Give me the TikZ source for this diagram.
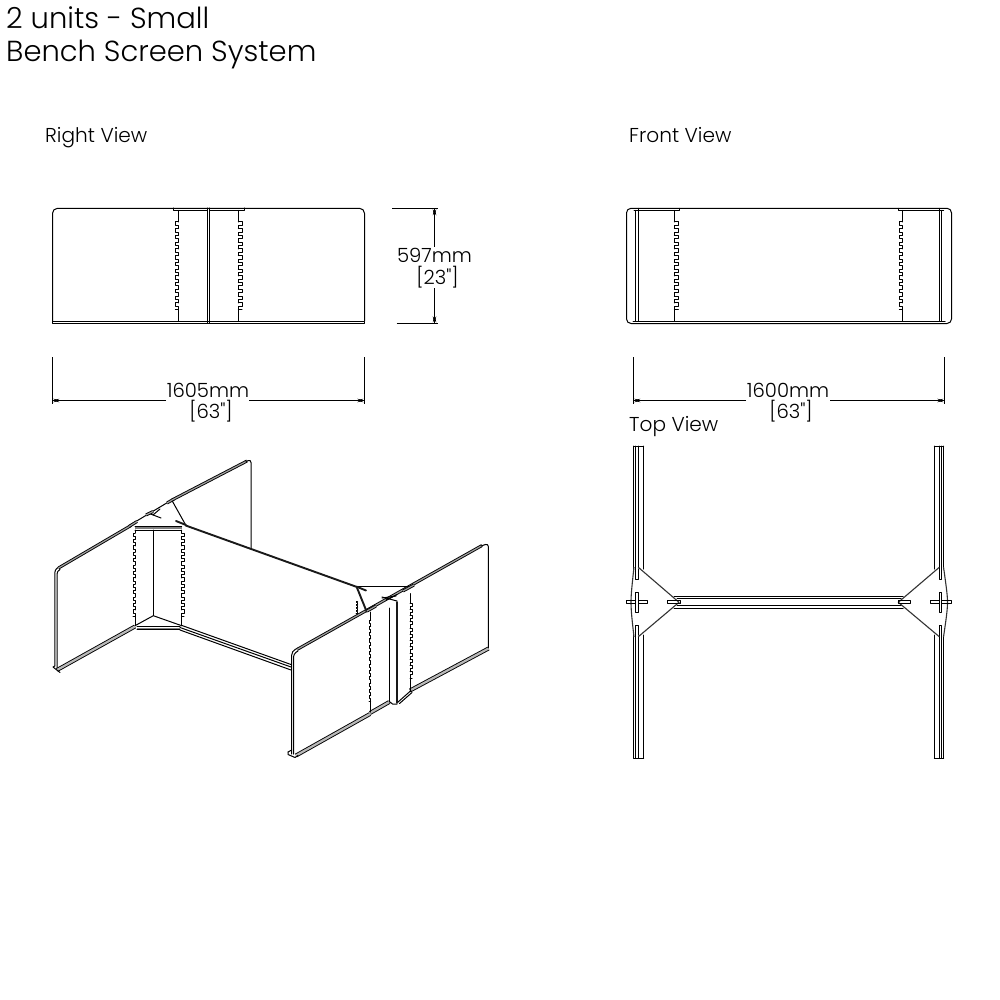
\documentclass[tikz,border=0pt]{standalone}
\usepackage{fontspec}
\setmainfont{Poppins Light}[Ligatures=TeXOff]
\usetikzlibrary{arrows.meta}
\newcommand{\teeth}[5]{% x0 x1 ystart period n
  \foreach \ti in {1,...,#5}{
    \pgfmathsetmacro{\ya}{#3+(\ti-1)*#4}
    \pgfmathsetmacro{\yb}{\ya+#4/2}
    \pgfmathsetmacro{\yc}{\ya+#4}
    \draw[ln] (#1,\ya) -- (#2,\ya) -- (#2,\yb) -- (#1,\yb) -- (#1,\yc);
  }
  \pgfmathsetmacro{\yc}{#3+#5*#4}
  \draw[ln] (#1,\yc) -- (#2,\yc);
}
\tikzset{
  ln/.style={draw=black,line width=1pt,line cap=round,line join=round},
  plate/.style={draw=black!80,line width=1.1pt,line join=round},
  heavy/.style={draw=black!90,line width=1.9pt,line cap=round},
  edge band/.style={draw=black,line width=0.9pt,double=gray!75,double distance=1.2pt,line cap=butt},
  foot band/.style={draw=black,line width=0.9pt,double=gray!55,double distance=2.2pt,line cap=butt},
  dim/.style={draw=black,line width=0.8pt,{Stealth[length=7pt,width=3.5pt]}-{Stealth[length=7pt,width=3.5pt]}},
  ext/.style={draw=black,line width=0.8pt},
  lab/.style={font=\fontsize{20.1}{22}\selectfont,anchor=base west,inner sep=0pt},
  dimtxt/.style={font=\fontsize{19.6}{22}\selectfont,anchor=base,inner sep=0pt},
  ttl/.style={font=\fontsize{29}{32}\selectfont,anchor=base west,inner sep=0pt},
}
\begin{document}
\begin{tikzpicture}[x=1pt,y=-1pt]
\useasboundingbox (0,0) rectangle (1000,1000);
\fill[white] (0,0) rectangle (1000,1000);
% titles
\node[ttl] (t1) at (6,28.5) {2 units - Small};
\node[ttl] (t2) at (6,61.5) {Bench Screen System};
\node[lab] (l1) at (45,142.5) {Right View};
\node[lab] (l2) at (629,142.5) {Front View};
\node[lab] (l3) at (629,431) {Top View};
% ---- right view
\draw[ln,rounded corners=5pt] (52.5,321) -- (52.5,208.3) -- (364.5,208.3) -- (364.5,321);
\draw[ln] (52.5,321) -- (364.5,321) -- (364.5,323.3) -- (52.5,323.3) -- cycle;
\draw[ln] (207.3,208) -- (207.3,323) (209.6,208) -- (209.6,323);
\draw[ln] (173.5,208) -- (173.5,210.5) -- (207.3,210.5);
\draw[ln] (244,208) -- (244,210.5) -- (209.6,210.5);
\draw[ln] (178.4,210.5) -- (178.4,222) (178.4,309.5) -- (178.4,321);
\draw[ln] (238.4,210.5) -- (238.4,222) (238.4,309.5) -- (238.4,321);
\teeth{178.4}{175.3}{222}{6.73}{13}
\teeth{238.4}{242}{222}{6.73}{13}
% dims right view
\draw[ext] (52.3,357) -- (52.3,404) (364.3,357) -- (364.3,404);
\coordinate (da) at (52.3,400.5); \coordinate (db) at (364.3,400.5);
\draw[ext] (166,400.5) -- (da);
\draw[ext] (249,400.5) -- (db);
\draw[dim] (da) -- ++(8,0);
\draw[dim] (db) -- ++(-8,0);
\node[dimtxt] (d1) at (208,397) {1605mm};
\node[dimtxt] (d1b) at (211,418.5) {[63"]};
\draw[ext] (392.3,208.3) -- (438,208.3) (396.7,323.3) -- (438,323.3);
\draw[ext] (434.5,246.5) -- (434.5,208.3) (434.5,288) -- (434.5,323.3);
\draw[dim] (434.5,208.3) -- ++(0,8);
\draw[dim] (434.5,323.3) -- ++(0,-8);
\node[dimtxt] (d2) at (434.5,262) {597mm};
\node[dimtxt] (d2b) at (437.5,284.5) {[23"]};
% ---- front view
\draw[ln,rounded corners=4.5pt] (626.5,265) -- (626.5,208.3) -- (951.5,208.3) -- (951.5,323.5) -- (626.5,323.5) -- cycle;
\draw[ln] (633,321) -- (945,321);
\draw[ln] (635.5,210.5) -- (635.5,321) (638.7,208.3) -- (638.7,321);
\draw[ln] (634,210.5) -- (679.8,210.5) -- (679.8,208.3);
\draw[ln] (674.3,210.5) -- (674.3,222) (674.3,309.5) -- (674.3,321);
\teeth{674.3}{678.3}{222}{6.73}{13}
\draw[ln] (939.3,208.3) -- (939.3,321) (941.7,210.5) -- (941.7,321);
\draw[ln] (943.5,210.5) -- (898.3,210.5) -- (898.3,208.3);
\draw[ln] (902.3,210.5) -- (902.3,222) (902.3,309.5) -- (902.3,321);
\teeth{902.3}{899.3}{222}{6.73}{13}
% dims front
\draw[ext] (633.3,357) -- (633.3,404) (944.3,357) -- (944.3,404);
\coordinate (dc) at (633.3,400.5); \coordinate (dd) at (944.3,400.5);
\draw[ext] (746,400.5) -- (dc);
\draw[ext] (830,400.5) -- (dd);
\draw[dim] (dc) -- ++(8,0);
\draw[dim] (dd) -- ++(-8,0);
\node[dimtxt] (d3) at (788,397) {1600mm};
\node[dimtxt] (d3b) at (791,418.5) {[63"]};
% ---- top view
\foreach \xx in {633.5,635.6,643.5}{
  \draw[ln] (\xx,446) -- (\xx,569) (\xx,635) -- (\xx,758);
}
\draw[ln] (638.5,446) -- (638.5,568) (638.5,636) -- (638.5,758);
\draw[ln] (633.5,446) -- (643.5,446) (633.5,758) -- (643.5,758);
\foreach \xx in {934.3,939.3,941.7,943.5}{
  \draw[ln] (\xx,446) -- (\xx,569) (\xx,635) -- (\xx,758);
}
\draw[ln] (934.3,446) -- (943.5,446) (934.3,758) -- (943.5,758);
% plates
\draw[plate] (634,567) .. controls (632,585) and (631,595) .. (631,602) .. controls (631,610) and (632,620) .. (634,637);
\draw[plate] (638.3,567.3) -- (679,602.3) -- (638.3,636.7);
\draw[plate] (943.5,567) .. controls (946,585) and (947.5,595) .. (947.5,602) .. controls (947.5,610) and (946,620) .. (943.5,637);
\draw[plate] (939.3,567.3) -- (898.3,602.3) -- (939.3,636.7);
% slots
\draw[ln] (635.5,569) -- (635.5,579) -- (638.5,579) -- (638.5,569);
\draw[ln] (635.5,635) -- (635.5,625) -- (638.5,625) -- (638.5,635);
\draw[ln] (939.3,569) -- (939.3,579) -- (941.7,579) -- (941.7,569);
\draw[ln] (939.3,635) -- (939.3,625) -- (941.7,625) -- (941.7,635);
\draw[ln] (626,600.8) rectangle (647.7,603.6);
\draw[ln,fill=white] (635.5,592.3) rectangle (638.7,612.3);
\draw[ln] (930,600.8) rectangle (951.7,603.6);
\draw[ln,fill=white] (939.3,592.3) rectangle (941.7,612.3);
% beam
\draw[ln] (674,596) -- (903,596) (677,598.6) -- (901,598.6) (677,605.4) -- (901,605.4) (674,608.3) -- (903,608.3);
\draw[ln] (667.3,600.8) rectangle (680,603.6);
\draw[ln] (898,600.8) rectangle (910.5,603.6);
% ---- isometric: back-left assembly
\draw[ln,rounded corners=3pt] (54.8,666) -- (54.8,569.5) -- (59,567);
\draw[ln,rounded corners=3pt] (57,668) -- (57,571) -- (60,569.5);
\draw[edge band] (58.5,568) -- (131,525.5);
\draw[foot band] (57,670) -- (135,626.5);
\draw[ln] (53,667) -- (54.8,666) (53,667) -- (60,672.5);
\draw[ln] (135,526.7) -- (181.7,526.7);
\draw[draw=gray,line width=1.6pt] (135,528) -- (181.7,528);
\draw[ln] (135,530) -- (181.7,530);
\draw[ln] (135,530) -- (135,533) (135,615.5) -- (135,625.7);
\draw[ln] (181.7,530) -- (181.7,533) (181.7,615.5) -- (181.7,625.7);
\teeth{135}{133}{533}{6.4}{13}
\teeth{181.7}{184}{533}{6.4}{13}
\draw[ln] (153.3,530) -- (153.3,615.7);
\draw[ln] (135,625.7) -- (153.3,615.7) -- (181.7,625.7);
\draw[ln] (137,626.3) -- (180,626.3) (137,629.5) -- (180,629.5);
\draw[draw=gray,line width=1pt] (137,628) -- (180,628);
% triangle top back-left
\draw[ln] (130,525) -- (171.7,500) -- (185.7,525);
\draw[edge band] (129,526.5) -- (137,521.5);
\draw[edge band] (167,503) -- (174,499);
\draw[heavy] (176,521) -- (186,525);
\draw[ln] (148,513) -- (161,518);
\draw[ln] (153,515) -- (160,509);
\draw[edge band] (146,515) -- (153,511.5);
% back panel
\draw[edge band] (172,500) -- (247,461);
\draw[ln,rounded corners=3pt] (246,461.5) -- (251,459.5) -- (251,548);
% long beam
\draw[heavy] (185.7,525.5) -- (357,587);
% bottom long beam
\draw[ln] (180,627.5) -- (291,667) (180,630) -- (291,670);
\draw[ln] (182,625.5) -- (291,664.5);
% ---- isometric: front-right assembly
\draw[ln,rounded corners=4pt] (291.7,754) -- (291.7,651) -- (298,648);
\draw[ln,rounded corners=3pt] (293.5,754) -- (293.5,654) -- (298,651);
\draw[edge band] (297,649.5) -- (482,545.5);
\draw[ln,rounded corners=3pt] (481,546) -- (488.3,543.5) -- (488.3,648);
\draw[foot band] (296,755.5) -- (370,714);
\draw[foot band] (410,690.5) -- (488.5,648.5);
\draw[ln] (288,752) -- (288,754.5) -- (295,757.5) -- (298,755.5);
\draw[ln] (288,752) -- (291.7,750);
\draw[foot band] (370,713) -- (389.3,702);
\draw[ln] (397.5,702.5) -- (411,690.5);
\draw[ln] (399.5,703.5) -- (412,692.5);
% posts
\draw[ln] (370.7,612) -- (370.7,620) (370.7,701.5) -- (370.7,712);
\teeth{370.7}{369}{620}{6.3}{13}
\draw[ln] (389.3,608) -- (389.3,701.5);
\draw[heavy] (397,602) -- (397,703);
\draw[ln] (389.3,701.5) .. controls (391,704) and (394,705) .. (397,704);
\draw[ln] (410,593.5) -- (410,603) (410,678) -- (410,691.5);
\teeth{410}{412}{603}{6.25}{12}
\teeth{357.5}{356}{601}{3}{4}
% triangle top
\draw[ln] (356.7,586.7) -- (411.7,586.7);
\draw[heavy] (356.7,587) -- (366.7,611.7);
\draw[heavy] (356.7,586.7) -- (366,590.5);
\draw[edge band] (367,611) -- (376,606);
\draw[edge band] (403,591) -- (414,585);
\draw[ln] (382,597) -- (397,601);
\draw[ln] (386,600) -- (397,594.5);
\draw[ln] (382,598) -- (396,596);
\end{tikzpicture}
\end{document}
